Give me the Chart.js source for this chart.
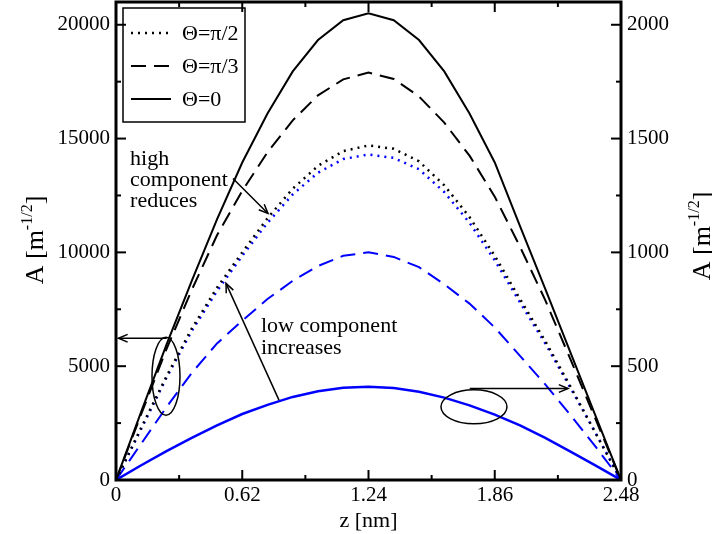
<!DOCTYPE html>
<html>
<head>
<meta charset="utf-8">
<script src="https://cdn.jsdelivr.net/npm/chart.js@4.4.0/dist/chart.umd.min.js"></script>
<style>
  html, body { margin: 0; padding: 0; background: #fff; }
  #wrap { width: 712px; height: 534px; }
</style>
</head>
<body>
<div id="wrap"><canvas id="c" width="712" height="534"></canvas></div>
<script>
// z positions [nm]
const zValues = [0, 0.124, 0.248, 0.372, 0.496, 0.62, 0.744, 0.868, 0.992, 1.116, 1.24,
  1.364, 1.488, 1.612, 1.736, 1.86, 1.984, 2.108, 2.232, 2.356, 2.48];

// high component, left axis
const highPi2 = [0, 2300, 4550, 6650, 8450, 10000, 11500, 12800, 13800, 14450, 14700,
  14550, 14000, 12950, 11550, 9850, 7950, 6100, 4100, 2050, 0];
const highPi3 = [0, 2900, 5750, 8350, 10750, 12700, 14400, 15800, 16900, 17600, 17900,
  17620, 16850, 15700, 14250, 12450, 10250, 7900, 5300, 2650, 0];
const high0 = [0, 3000, 5950, 8750, 11450, 13950, 16100, 17950, 19330, 20200, 20500,
  20200, 19330, 17950, 16100, 13950, 11150, 8400, 5600, 2800, 0];

// low component, right axis
const lowPi2 = [0, 225, 450, 655, 830, 985, 1130, 1255, 1350, 1410, 1430,
  1415, 1365, 1265, 1130, 965, 780, 600, 405, 205, 0];
const lowPi3 = [0, 160, 320, 470, 600, 700, 795, 875, 940, 985, 1000,
  980, 935, 860, 775, 670, 545, 420, 285, 145, 0];
const low0 = [0, 65, 127, 185, 240, 290, 330, 365, 390, 405, 410,
  404, 388, 362, 328, 287, 240, 185, 125, 63, 0];

const xTicks = [0, 0.62, 1.24, 1.86, 2.48];
const xTickLabels = ['0', '0.62', '1.24', '1.86', '2.48'];
const xMinorTicks = [0.31, 0.93, 1.55, 2.17];
const leftTicks = [0, 5000, 10000, 15000, 20000];
const leftMinorTicks = [2500, 7500, 12500, 17500];
const rightTicks = [0, 500, 1000, 1500, 2000];
const rightMinorTicks = [250, 750, 1250, 1750];

const serif = "'Liberation Serif', 'Times New Roman', serif";

function pts(ys) {
  return zValues.map((z, i) => ({ x: z, y: ys[i] }));
}

const dotted = [2, 5];
const dashed = [15, 8];

const datasets = [
  { label: '\u0398=\u03c0/2', data: pts(highPi2), yAxisID: 'y', borderColor: '#000', borderWidth: 2.5, borderDash: dotted },
  { label: '\u0398=\u03c0/3', data: pts(highPi3), yAxisID: 'y', borderColor: '#000', borderWidth: 2, borderDash: dashed },
  { label: '\u0398=0', data: pts(high0), yAxisID: 'y', borderColor: '#000', borderWidth: 2 },
  { label: 'low \u03c0/2', data: pts(lowPi2), yAxisID: 'y2', borderColor: '#0000ff', borderWidth: 2.5, borderDash: dotted },
  { label: 'low \u03c0/3', data: pts(lowPi3), yAxisID: 'y2', borderColor: '#0000ff', borderWidth: 2, borderDash: dashed },
  { label: 'low 0', data: pts(low0), yAxisID: 'y2', borderColor: '#0000ff', borderWidth: 2.5 }
];
datasets.forEach(d => { d.pointRadius = 0; d.fill = false; d.tension = 0; });

function line(ctx, x1, y1, x2, y2) {
  ctx.beginPath(); ctx.moveTo(x1, y1); ctx.lineTo(x2, y2); ctx.stroke();
}

function arrow(ctx, x1, y1, x2, y2) {
  line(ctx, x1, y1, x2, y2);
  const ang = Math.atan2(y2 - y1, x2 - x1);
  const len = 10, spread = 0.4;
  ctx.beginPath();
  ctx.moveTo(x2 - len * Math.cos(ang - spread), y2 - len * Math.sin(ang - spread));
  ctx.lineTo(x2, y2);
  ctx.lineTo(x2 - len * Math.cos(ang + spread), y2 - len * Math.sin(ang + spread));
  ctx.stroke();
}

// A [m^-1/2] title, rotated
function yTitle(ctx, bx, cy) {
  ctx.save();
  ctx.translate(bx, cy);
  ctx.rotate(-Math.PI / 2);
  ctx.fillStyle = '#000';
  ctx.textBaseline = 'alphabetic';
  ctx.textAlign = 'left';
  const big = '26px ' + serif, small = '16px ' + serif;
  ctx.font = big; const w1 = ctx.measureText('A [m').width; const w3 = ctx.measureText(']').width;
  ctx.font = small; const w2 = ctx.measureText('-1/2').width;
  let x = -(w1 + w2 + w3) / 2;
  ctx.font = big; ctx.fillText('A [m', x, 0); x += w1;
  ctx.font = small; ctx.fillText('-1/2', x, -11); x += w2;
  ctx.font = big; ctx.fillText(']', x, 0);
  ctx.restore();
}

const decor = {
  id: 'decor',
  afterDraw(chart) {
    const { ctx, chartArea: a, scales } = chart;
    const sx = scales.x, sl = scales.y, sr = scales.y2;
    const P = (x, y) => [sx.getPixelForValue(x), sl.getPixelForValue(y)];
    ctx.save();
    ctx.strokeStyle = '#000';
    ctx.lineCap = 'butt';

    // frame
    ctx.lineWidth = 3;
    ctx.strokeRect(a.left, a.top, a.right - a.left, a.bottom - a.top);

    // inward ticks
    ctx.lineWidth = 2;
    xTicks.concat(xMinorTicks).forEach(v => {
      const px = sx.getPixelForValue(v);
      const len = xTicks.includes(v) ? 10 : 5;
      line(ctx, px, a.bottom, px, a.bottom - len);
      line(ctx, px, a.top, px, a.top + len);
    });
    leftTicks.concat(leftMinorTicks).forEach(v => {
      const py = sl.getPixelForValue(v);
      line(ctx, a.left, py, a.left + (leftTicks.includes(v) ? 10 : 5), py);
    });
    rightTicks.concat(rightMinorTicks).forEach(v => {
      const py = sr.getPixelForValue(v);
      line(ctx, a.right, py, a.right - (rightTicks.includes(v) ? 10 : 5), py);
    });

    // legend
    const lx = a.left + 7, ly = a.top + 6;
    ctx.lineWidth = 1.5;
    ctx.strokeRect(lx, ly, 122, 114);
    ctx.font = '22px ' + serif;
    ctx.fillStyle = '#000';
    ctx.textBaseline = 'middle';
    ctx.textAlign = 'left';
    [0, 1, 2].forEach(i => {
      const ds = chart.data.datasets[i];
      const ry = ly + 25 + i * 33;
      ctx.save();
      ctx.lineWidth = ds.borderWidth;
      ctx.setLineDash(ds.borderDash || []);
      line(ctx, lx + 8, ry, lx + 48, ry);
      ctx.restore();
      ctx.fillText(ds.label, lx + 59, ry + 1);
    });

    // annotations
    ctx.lineWidth = 1.5;
    ctx.font = '22px ' + serif;
    let p = P(0.069, 14100); ctx.fillText('high', p[0], p[1]);
    p = P(0.069, 13180); ctx.fillText('component', p[0], p[1]);
    p = P(0.069, 12260); ctx.fillText('reduces', p[0], p[1]);
    let q = P(0.5745, 13246), r = P(0.7465, 11711);
    arrow(ctx, q[0], q[1], r[0], r[1]);

    p = P(0.712, 6754); ctx.fillText('low component', p[0], p[1]);
    p = P(0.712, 5789); ctx.fillText('increases', p[0], p[1]);
    q = P(0.8004, 3509); r = P(0.5402, 8640);
    arrow(ctx, q[0], q[1], r[0], r[1]);

    // left ellipse and arrow to left axis
    let c = P(0.2455, 4560);
    ctx.beginPath(); ctx.ellipse(c[0], c[1], 14, 39, 0, 0, Math.PI * 2); ctx.stroke();
    q = P(0.249, 6228); r = P(0.012, 6228);
    arrow(ctx, q[0], q[1], r[0], r[1]);

    // right ellipse and arrow to right axis
    c = P(1.758, 3215);
    ctx.beginPath(); ctx.ellipse(c[0], c[1], 33, 17, 0, 0, Math.PI * 2); ctx.stroke();
    q = P(1.737, 4020); r = P(2.22, 4020);
    arrow(ctx, q[0], q[1], r[0], r[1]);

    // axis titles
    yTitle(ctx, 43, 240);
    yTitle(ctx, 710, 236);
    ctx.font = '22px ' + serif;
    ctx.textAlign = 'center';
    ctx.textBaseline = 'alphabetic';
    ctx.fillText('z [nm]', (a.left + a.right) / 2, 527);
    ctx.restore();
  }
};

const tickFont = { family: serif, size: 21 };

function noPad(s) {
  s.paddingTop = 0; s.paddingBottom = 0; s.paddingLeft = 0; s.paddingRight = 0;
}

new Chart(document.getElementById('c'), {
  type: 'line',
  data: { datasets: datasets },
  options: {
    responsive: false,
    animation: false,
    devicePixelRatio: 1,
    layout: { padding: { top: 2, left: 0, right: 0, bottom: 0 } },
    plugins: { legend: { display: false }, tooltip: { enabled: false } },
    scales: {
      x: {
        type: 'linear', min: 0, max: 2.48,
        grid: { display: false, drawTicks: false },
        border: { display: false },
        ticks: {
          font: tickFont, color: '#000', padding: 3, maxRotation: 0, autoSkip: false,
          callback: (v, i) => xTickLabels[i]
        },
        afterBuildTicks: s => { s.ticks = xTicks.map(v => ({ value: v })); },
        afterFit: s => { s.height = 54; noPad(s); }
      },
      y: {
        position: 'left', min: 0, max: 21000,
        grid: { display: false, drawTicks: false },
        border: { display: false },
        ticks: { font: tickFont, color: '#000', padding: 6, callback: v => String(v) },
        afterBuildTicks: s => { s.ticks = leftTicks.map(v => ({ value: v })); },
        afterFit: s => { s.width = 116; noPad(s); }
      },
      y2: {
        position: 'right', min: 0, max: 2100,
        grid: { display: false, drawTicks: false },
        border: { display: false },
        ticks: { font: tickFont, color: '#000', padding: 6, callback: v => String(v) },
        afterBuildTicks: s => { s.ticks = rightTicks.map(v => ({ value: v })); },
        afterFit: s => { s.width = 91; noPad(s); }
      }
    }
  },
  plugins: [decor]
});
</script>
</body>
</html>
